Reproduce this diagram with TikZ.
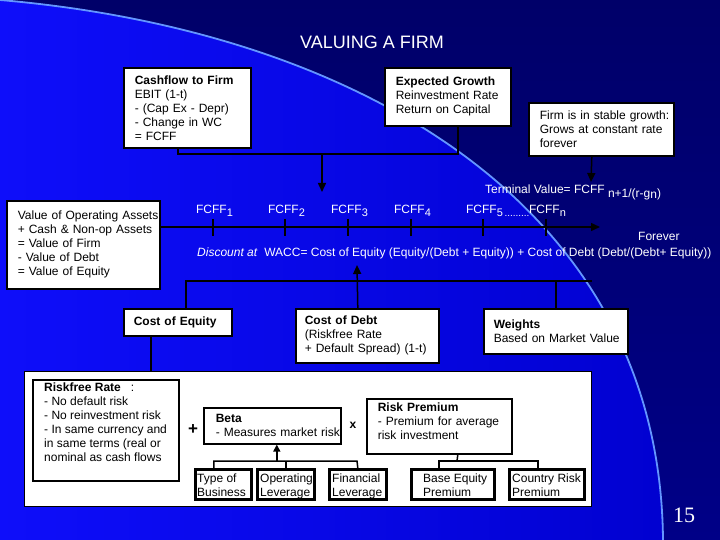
\documentclass[tikz,border=0pt]{standalone}
\usepackage{fontspec}
\setmainfont{Liberation Sans}
\newfontfamily\numfont{Liberation Serif}
\usetikzlibrary{arrows.meta}
\definecolor{bgA}{RGB}{14,14,250}
\definecolor{bgB}{RGB}{0,0,205}
\definecolor{navyA}{RGB}{0,0,105}
\definecolor{navyM}{RGB}{15,15,215}
\definecolor{navyB}{RGB}{0,0,135}
\definecolor{arccol}{RGB}{100,150,255}
\newcommand\lpad[1]{\leftskip=#1pt\relax}
\begin{document}
\begin{tikzpicture}[x=1pt,y=-1pt,
  box/.style={draw=black, line width=1.6pt, fill=white, anchor=north west, inner sep=0pt, align=left, font=\fontsize{12}{14}\selectfont},
  subbox/.style={draw=black, line width=1.8pt, fill=white, anchor=north west, inner sep=0pt, minimum height=29pt},
  btxt/.style={inner sep=0pt, anchor=north west, align=left, font=\fontsize{12}{14}\selectfont},
  wtxt/.style={text=white, inner sep=0pt, font=\fontsize{12}{14}\selectfont},
  conn/.style={draw=black, line width=1.5pt},
  arr/.style={conn, -{Triangle[length=9pt,width=8pt]}},
  sarr/.style={conn, -{Triangle[length=7pt,width=7pt]}}
]
\useasboundingbox (0,0) rectangle (720,540);
% background
\fill[left color=bgA, right color=bgB] (0,0) rectangle (720,540);
\shade[top color=navyA, middle color=navyM, bottom color=navyB]
  (0,0) .. controls (350,30) and (660,200) .. (663,540) -- (720,540) -- (720,0) -- cycle;
\draw[arccol, line width=1.8pt] (0,0) .. controls (350,30) and (660,200) .. (663,540);

% title
\node[wtxt, font=\fontsize{18}{20}\selectfont] (title) at (372,42) {VALUING A FIRM};

% top boxes
\node[box, text width=127pt, minimum height=80pt] (cf) at (123,67)
  {\lpad{11}\textbf{Cashflow to Firm}\\EBIT (1-t)\\- (Cap Ex - Depr)\\- Change in WC\\= FCFF\par};
\node[box, text width=126pt, minimum height=58pt] (eg) at (384,67)
  {\lpad{11}\textbf{Expected Growth}\\Reinvestment Rate\\* Return on Capital\par};
\node[box, text width=145pt, minimum height=53pt] (sg) at (528,102)
  {\lpad{11}Firm is in stable growth:\\Grows at constant rate\\forever\par};
\node[box, text width=153pt, minimum height=88pt] (vo) at (6,200)
  {\lpad{11}Value of Operating Assets\\+ Cash \& Non-op Assets\\= Value of Firm\\- Value of Debt\\= Value of Equity\par};

% top connectors
\coordinate (j1) at (322,154);
\coordinate (tip1) at (322,192);
\coordinate (tip2) at (591,182);
\draw[conn] ([xshift=-9.5pt]cf.south) |- (j1) -| ([xshift=10pt]eg.south);
\draw[arr] (j1) -- (tip1);
\draw[arr] ([xshift=-9.5pt]sg.south) -- (tip2);

% terminal value
\node[wtxt, anchor=base west] (tv) at (485,194)
  {Terminal Value= FCFF \raisebox{-3pt}{n+1/(r-g\raisebox{-2pt}{n})}};

% timeline
\coordinate (tlend) at (600,227);
\draw[arr] (vo.east |- tlend) -- (tlend);
\foreach \x/\k in {213/1,285/2,348/3,411/4,483/5,546/n}{
  \coordinate (t\k) at (\x,227);
  \draw[conn] ([yshift=8pt]t\k) -- ([yshift=-9pt]t\k);
  \node[wtxt, anchor=base] (f\k) at (\x+1.5,213.5)
    {FCFF\raisebox{-3pt}{\fontsize{11}{11}\selectfont\k}};
}
\node[wtxt, font=\fontsize{10}{10}\selectfont] (dots) at (517,216) {.........};
\node[wtxt, anchor=west] (fv) at (638,236) {Forever};
\node[wtxt, anchor=west] (wacc) at (197,253)
  {\textit{Discount at}\ \ WACC= Cost of Equity (Equity/(Debt + Equity)) + Cost of Debt (Debt/(Debt+ Equity))};

% middle boxes
\node[box, text width=108pt, minimum height=27pt] (ce) at (123,308)
  {\lpad{10}\textbf{Cost of Equity}\par};
\node[box, text width=143pt, minimum height=54pt] (cd) at (295,308)
  {\lpad{9}\textbf{Cost of Debt}\\(Riskfree Rate\\+ Default Spread) (1-t)\par};
\node[box, text width=144pt, minimum height=45pt] (wt) at (483,308)
  {\lpad{10}\textbf{Weights}\\Based on Market Value\par};

% middle connectors
\coordinate (j2r) at (592,281);
\coordinate (wtip) at (357,265);
\draw[conn] ([xshift=8pt]ce.north) |- (j2r);
\draw[conn] (wt.north) -- (wt.north |- j2r);
\draw[arr] ([xshift=-9.5pt]cd.north) -- (wtip);

% big box
\node[box, line width=1.3pt, text width=567pt, minimum height=135pt] (bb) at (24,371) {};
\draw[conn] ([xshift=-27pt]ce.south) -- ([xshift=-27pt]ce.south |- bb.north);

\node[box, text width=146pt, minimum height=101pt] (rf) at (32,379) {};
\node[btxt] (rft) at (44,383)
  {\textbf{Riskfree Rate}\ \ \ :\\- No default risk\\- No reinvestment risk\\- In same currency and\\in same terms (real or\\nominal as cash flows};

\node[inner sep=0pt, font=\bfseries\fontsize{17}{17}\selectfont] (plus) at (193,430) {+};
\node[box, text width=137pt, minimum height=36pt] (bt) at (203,407)
  {\lpad{12}\textbf{Beta}\\- Measures market risk\par};
\node[inner sep=0pt, font=\bfseries\fontsize{12}{12}\selectfont] (times) at (353,425) {x};
\node[box, text width=145pt, minimum height=55pt] (rp) at (366,398)
  {\lpad{11}\textbf{Risk Premium}\\- Premium for average\\risk investment\par\kern10pt};

% sub boxes
\node[subbox, minimum width=55pt] (tb) at (195,469) {};
\node[subbox, minimum width=56pt] (ol) at (257,469) {};
\node[subbox, minimum width=56pt] (fl) at (329,469) {};
\node[subbox, minimum width=82pt] (be) at (411,469) {};
\node[subbox, minimum width=74pt] (cr) at (509,469) {};
\node[btxt] (tbt) at (197,474) {Type of\\Business};
\node[btxt] (olt) at (260,474) {Operating\\Leverage};
\node[btxt] (flt) at (332,474) {Financial\\Leverage};
\node[btxt] (bet) at (423,474) {Base Equity\\Premium};
\node[btxt] (crt) at (512,474) {Country Risk\\Premium};
\foreach \b in {tb,ol,fl,be,cr}{
  \draw[line width=1.8pt] (\b.south west) rectangle (\b.north east);
}

% beta connectors
\coordinate (bj) at (357,461);
\draw[conn] ([xshift=-9.5pt]tb.north) |- (bj) -- (fl.north);
\draw[conn] (ol.north) -- (ol.north |- bj);
\draw[sarr] ([xshift=4.5pt]bt.south |- bj) -- ([xshift=4.5pt]bt.south);

% risk premium connectors
\coordinate (rj) at (457,461);
\draw[conn] ([xshift=18.5pt]rp.south) -- (rj);
\draw[conn] ([xshift=-14pt]be.north) |- (rj) -| ([xshift=-9pt]cr.north);

% page number
\node[text=white, inner sep=0pt, font=\numfont\fontsize{22}{22}\selectfont] (pg) at (684,515) {15};
\end{tikzpicture}
\end{document}
